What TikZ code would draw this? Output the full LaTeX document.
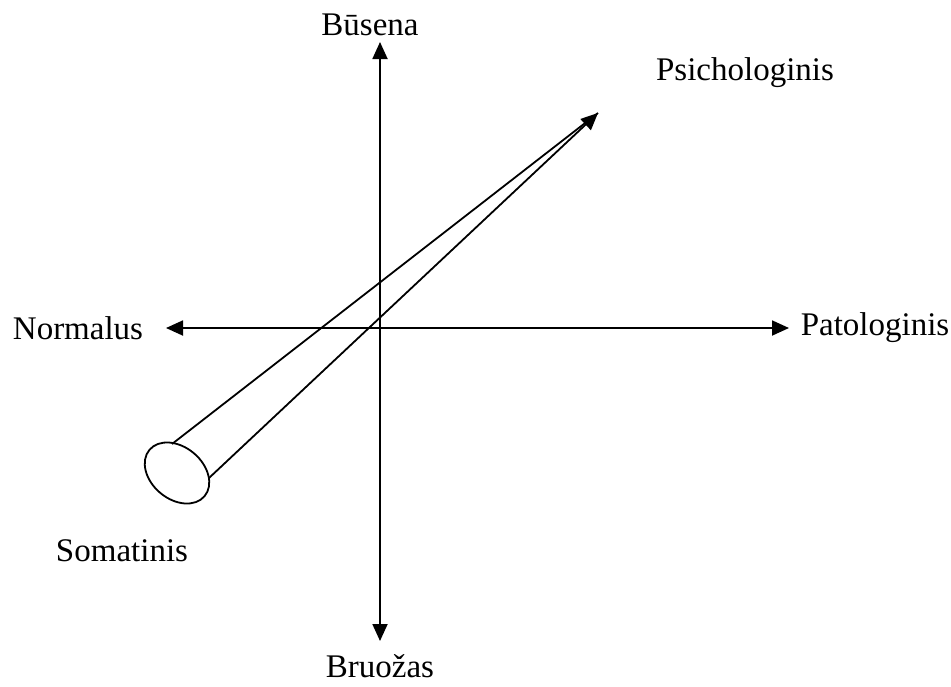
\documentclass[tikz,border=0pt]{standalone}
\usepackage{fontspec}
\setmainfont{Liberation Serif}
\usetikzlibrary{arrows.meta,shapes.geometric}

\begin{document}
\begin{tikzpicture}[x=0.5pt,y=-0.5pt,line width=0.9pt,
  ax/.style={{Triangle[length=8.5pt,width=7.5pt]}-{Triangle[length=8.5pt,width=7.5pt]}},
  lab/.style={font=\fontsize{16.5}{20}\selectfont}]
  \useasboundingbox (0,0) rectangle (951,686);
  % axes
  \coordinate (top) at (380,42);
  \coordinate (bot) at (380,641);
  \coordinate (lft) at (166,328);
  \coordinate (rgt) at (789,328);
  \draw[ax] (bot) -- (top);
  \draw[ax] (lft) -- (rgt);
  % labels
  \node[lab] (busena) at (370,25) {Būsena};
  \node[lab] (bruozas) at (380,666) {Bruožas};
  \node[lab] (normalus) at (78,328) {Normalus};
  \node[lab] (patol) at (875,328) {Patologinis};
  \node[lab] (psich) at (745,73) {Psichologinis};
  \node[lab] (somat) at (122,551) {Somatinis};
  % cone
  \node[draw, ellipse, rotate=-40, minimum width=36pt, minimum height=26pt, inner sep=0pt] (soma) at (177,473) {};
  \coordinate (ca) at (172,444);
  \coordinate (cb) at (209,478);
  \coordinate (tip) at (598,113);
  \draw (ca) -- (tip);
  \draw[-{Triangle[length=8.5pt,width=7.5pt]}] (cb) -- (tip);
\end{tikzpicture}
\end{document}
